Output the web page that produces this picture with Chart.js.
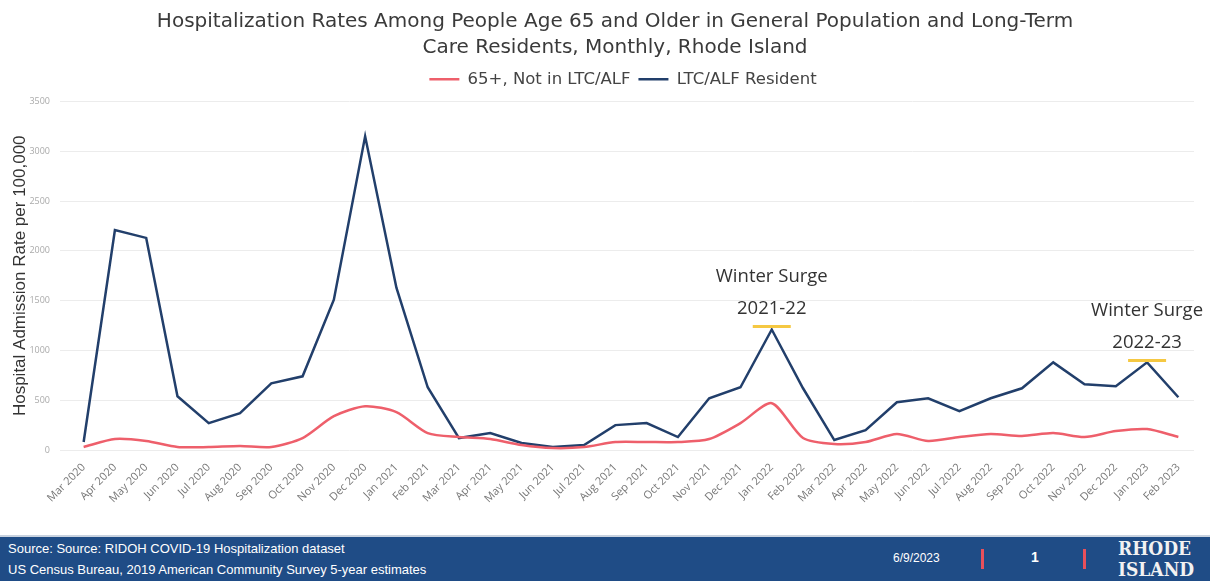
<!DOCTYPE html>
<html>
<head>
<meta charset="utf-8">
<script src="https://cdn.jsdelivr.net/npm/chart.js@4.4.0/dist/chart.umd.min.js"></script>
<style>
  html, body { margin: 0; padding: 0; background: #fff; }
  body { width: 1210px; height: 586px; position: relative; overflow: hidden; font-family: "Open Sans", Arial, sans-serif; }
  #wrap { position: absolute; left: 0; top: 0; width: 1210px; height: 530px; }
  #footer { position: absolute; left: 0; top: 535px; width: 1210px; height: 44px; background: #1f4c86; color: #fff; border-top: 2px solid #c8d2df; }
  #src { position: absolute; left: 8px; top: 1px; font-family: "Liberation Sans", Arial, sans-serif; font-size: 13px; line-height: 21px; }
  #date { position: absolute; left: 893px; top: 14px; font-size: 12px; font-family: "Liberation Sans", Arial, sans-serif; }
  .bar { position: absolute; top: 12px; width: 3px; height: 20px; background: #e8505b; }
  #page { position: absolute; left: 1031px; top: 12px; font-size: 14px; font-weight: bold; font-family: "Liberation Sans", Arial, sans-serif; }
  #ri { position: absolute; left: 1118px; top: 1px; font-family: "DejaVu Serif", serif; font-stretch: condensed; font-weight: bold; font-size: 19px; line-height: 21px; color: #f2f2f2; }
</style>
</head>
<body>
<div id="wrap"><canvas id="chart"></canvas></div>
<div id="footer">
  <div id="src">Source: Source: RIDOH COVID-19 Hospitalization dataset<br>US Census Bureau, 2019 American Community Survey 5-year estimates</div>
  <div id="date">6/9/2023</div>
  <div class="bar" style="left:981px"></div>
  <div id="page">1</div>
  <div class="bar" style="left:1083px"></div>
  <div id="ri">RHODE<br>ISLAND</div>
</div>
<script>
const months = ['Mar 2020', 'Apr 2020', 'May 2020', 'Jun 2020', 'Jul 2020', 'Aug 2020', 'Sep 2020', 'Oct 2020',
  'Nov 2020', 'Dec 2020', 'Jan 2021', 'Feb 2021', 'Mar 2021', 'Apr 2021', 'May 2021', 'Jun 2021', 'Jul 2021',
  'Aug 2021', 'Sep 2021', 'Oct 2021', 'Nov 2021', 'Dec 2021', 'Jan 2022', 'Feb 2022', 'Mar 2022', 'Apr 2022',
  'May 2022', 'Jun 2022', 'Jul 2022', 'Aug 2022', 'Sep 2022', 'Oct 2022', 'Nov 2022', 'Dec 2022', 'Jan 2023', 'Feb 2023'];

const notInLtc = [30, 110, 90, 30, 30, 40, 30, 120, 340, 440, 380, 170, 130, 110, 50, 20, 30, 80,
  80, 80, 110, 270, 470, 120, 60, 80, 160, 90, 130, 160, 140, 170, 130, 190, 210, 130];

const ltcResident = [80, 2210, 2130, 540, 270, 370, 670, 740, 1510, 3150, 1630, 630, 120, 170, 70, 30, 50, 250,
  270, 130, 520, 630, 1210, 620, 100, 200, 480, 520, 390, 520, 620, 880, 660, 640, 880, 530];

const yTicks = [0, 500, 1000, 1500, 2000, 2500, 3000, 3500];

// winter surge call-outs: month, marker value, label lines
const surgeMonths = ['Jan 2022', 'Jan 2023'];
const surgeValues = [1240, 900];
const surgeLabels = [['Winter Surge', '2021-22'], ['Winter Surge', '2022-23']];

const surgePlugin = {
  id: 'surge',
  afterDatasetsDraw(chart) {
    const { ctx, scales: { x, y } } = chart;
    ctx.save();
    surgeMonths.forEach((m, i) => {
      const px = x.getPixelForValue(months.indexOf(m));
      const py = y.getPixelForValue(surgeValues[i]);
      ctx.strokeStyle = '#f5c842';
      ctx.lineWidth = 3;
      ctx.beginPath();
      ctx.moveTo(px - 19, py);
      ctx.lineTo(px + 19, py);
      ctx.stroke();
      ctx.fillStyle = '#333';
      ctx.font = '18.5px "Open Sans", sans-serif';
      ctx.textAlign = 'center';
      ctx.textBaseline = 'middle';
      ctx.fillText(surgeLabels[i][1], px, py - 18);
      ctx.fillText(surgeLabels[i][0], px, py - 50);
    });
    ctx.restore();
  }
};

// a bit more room under the legend, and nudge title/legend to the right like the slide
const headerTweak = {
  id: 'headerTweak',
  beforeInit(chart) {
    const fit = chart.legend.fit;
    chart.legend.fit = function () {
      fit.bind(chart.legend)();
      this.height += 4;
    };
  },
  afterLayout(chart) {
    chart.titleBlock.left += 13;
    chart.titleBlock.right += 13;
    chart.legend.left += 21;
    chart.legend.right += 21;
  }
};

const ctx = document.getElementById('chart').getContext('2d');
new Chart(ctx, {
  type: 'line',
  data: {
    labels: months,
    datasets: [{
      label: '65+, Not in LTC/ALF',
      data: notInLtc,
      borderColor: '#ee5f6b',
      backgroundColor: '#ee5f6b',
      borderWidth: 2.5,
      pointRadius: 0,
      tension: 0.25,
    }, {
      label: 'LTC/ALF Resident',
      data: ltcResident,
      borderColor: '#223f6b',
      backgroundColor: '#223f6b',
      borderWidth: 2.5,
      pointRadius: 0,
      tension: 0,
    }]
  },
  options: {
    responsive: true,
    maintainAspectRatio: false,
    animation: false,
    layout: { padding: { left: 10, right: 16, top: 9, bottom: 0 } },
    plugins: {
      title: {
        display: true,
        text: ['Hospitalization Rates Among People Age 65 and Older in General Population and Long-Term',
          'Care Residents, Monthly, Rhode Island'],
        color: '#3a3a3a',
        font: { family: '"DejaVu Sans", sans-serif', size: 20, weight: 'normal', lineHeight: 1.3 },
        padding: { top: 0, bottom: 2 },
      },
      legend: {
        display: true,
        labels: {
          usePointStyle: true,
          pointStyle: 'line',
          pointStyleWidth: 30,
          color: '#444',
          font: { family: '"DejaVu Sans", sans-serif', size: 16.5 },
          padding: 8,
        },
      },
      tooltip: { enabled: false },
    },
    scales: {
      x: {
        offset: true,
        grid: { display: false },
        border: { display: false },
        ticks: {
          autoSkip: false,
          maxRotation: 45,
          minRotation: 45,
          color: '#777',
          font: { family: '"Open Sans", sans-serif', size: 11 },
        },
        afterFit(scale) { scale.height = 80; },
      },
      y: {
        min: 0,
        max: 3500,
        afterBuildTicks(scale) { scale.ticks = yTicks.map(v => ({ value: v })); },
        grid: { color: '#ececec' },
        border: { display: false },
        ticks: {
          color: '#aaa',
          padding: 10,
          font: { family: '"Open Sans", sans-serif', size: 9 },
          callback: v => String(v),
        },
        title: {
          display: true,
          text: 'Hospital Admission Rate per 100,000',
          color: '#333',
          font: { family: '"Liberation Sans", Arial, sans-serif', size: 17 },
          padding: 0,
        },
        afterFit(scale) { scale.width = 58; },
      },
    },
  },
  plugins: [surgePlugin, headerTweak],
});
</script>
</body>
</html>
